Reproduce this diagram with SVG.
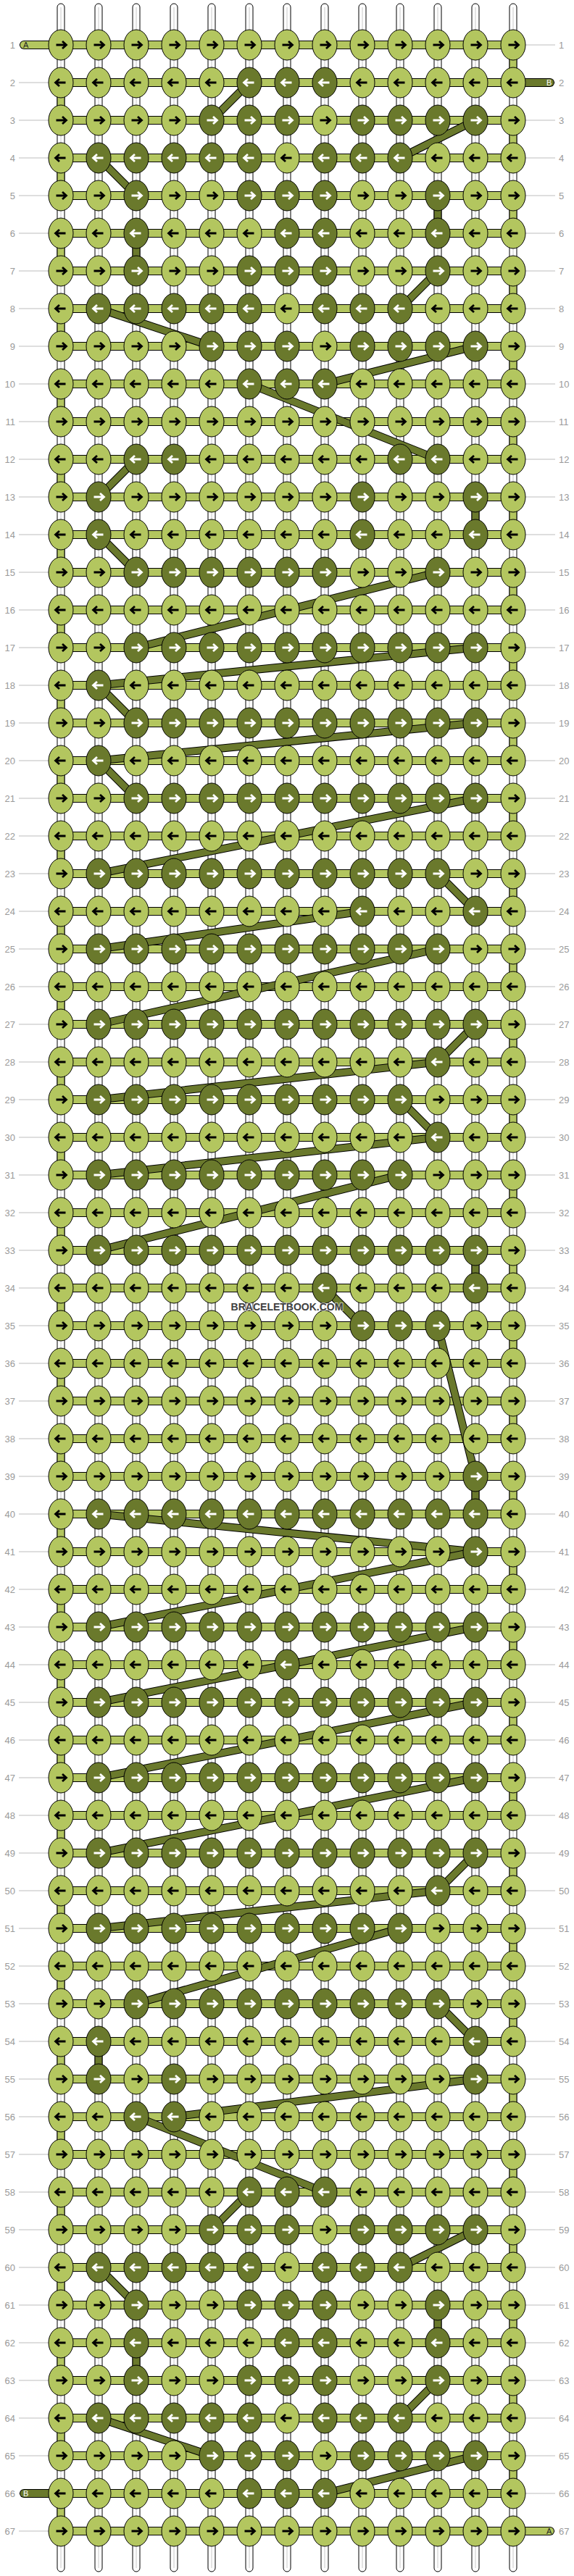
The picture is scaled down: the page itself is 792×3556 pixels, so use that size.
<svg xmlns="http://www.w3.org/2000/svg" xmlns:xlink="http://www.w3.org/1999/xlink" width="792" height="3556" viewBox="0 0 792 3556">
<style>
.lb{font-family:"Liberation Sans",Arial,sans-serif;font-size:13px;fill:#9a9a9a}
.ll{fill:none;stroke:#bdbdbd;stroke-width:1}
.w{fill:#fff;stroke:#000;stroke-width:1}
.wc{fill:none;stroke:#c8c8c8;stroke-width:1}
.ob{fill:none;stroke:#000;stroke-width:12}
.oi{fill:none;stroke:#b3c65f;stroke-width:10}
.eb{fill:none;stroke:#000;stroke-width:11;stroke-dasharray:52 52}
.ei{fill:none;stroke:#b3c65f;stroke-width:9;stroke-dasharray:52 52}
.l{fill:#b3c65f;color:#000}
.d{fill:#6a792c;color:#fff}
.cb{stroke:#000;stroke-width:11}
.cf{stroke:#6a792c;stroke-width:9}
.tb{stroke:#000;stroke-width:12;stroke-linecap:round}
.tl{stroke:#b3c65f;stroke-width:10;stroke-linecap:round}
.td{stroke:#6a792c;stroke-width:10;stroke-linecap:round}
.tx{font-family:"Liberation Sans",Arial,sans-serif;font-size:11px}
</style>
<defs>
<g id="R"><ellipse rx="17" ry="21" stroke="#000" stroke-width="1"/><path d="M-6.5 0H7M2-5 7.5 0 2 5" fill="none" stroke="currentColor" stroke-width="2.8"/></g>
<g id="L"><ellipse rx="17" ry="21" stroke="#000" stroke-width="1"/><path d="M6.5 0H-7M-2-5-7.5 0-2 5" fill="none" stroke="currentColor" stroke-width="2.8"/></g>
<path id="bars" d="M84 62H708M84 114H708M84 166H708M84 218H708M84 270H708M84 322H708M84 374H708M84 426H708M84 478H708M84 530H708M84 582H708M84 634H708M84 686H708M84 738H708M84 790H708M84 842H708M84 894H708M84 946H708M84 998H708M84 1050H708M84 1102H708M84 1154H708M84 1206H708M84 1258H708M84 1310H708M84 1362H708M84 1414H708M84 1466H708M84 1518H708M84 1570H708M84 1622H708M84 1674H708M84 1726H708M84 1778H708M84 1830H708M84 1882H708M84 1934H708M84 1986H708M84 2038H708M84 2090H708M84 2142H708M84 2194H708M84 2246H708M84 2298H708M84 2350H708M84 2402H708M84 2454H708M84 2506H708M84 2558H708M84 2610H708M84 2662H708M84 2714H708M84 2766H708M84 2818H708M84 2870H708M84 2922H708M84 2974H708M84 3026H708M84 3078H708M84 3130H708M84 3182H708M84 3234H708M84 3286H708M84 3338H708M84 3390H708M84 3442H708M84 3494H708"/>
<path id="links" d="M84 114V3494M708 62V3442"/>
</defs>
<rect width="792" height="3556" fill="#fff"/>
<g id="labels">
<path class="ll" d="M26 62H67M725 62H766M26 114H67M725 114H766M26 166H67M725 166H766M26 218H67M725 218H766M26 270H67M725 270H766M26 322H67M725 322H766M26 374H67M725 374H766M26 426H67M725 426H766M26 478H67M725 478H766M26 530H67M725 530H766M26 582H67M725 582H766M26 634H67M725 634H766M26 686H67M725 686H766M26 738H67M725 738H766M26 790H67M725 790H766M26 842H67M725 842H766M26 894H67M725 894H766M26 946H67M725 946H766M26 998H67M725 998H766M26 1050H67M725 1050H766M26 1102H67M725 1102H766M26 1154H67M725 1154H766M26 1206H67M725 1206H766M26 1258H67M725 1258H766M26 1310H67M725 1310H766M26 1362H67M725 1362H766M26 1414H67M725 1414H766M26 1466H67M725 1466H766M26 1518H67M725 1518H766M26 1570H67M725 1570H766M26 1622H67M725 1622H766M26 1674H67M725 1674H766M26 1726H67M725 1726H766M26 1778H67M725 1778H766M26 1830H67M725 1830H766M26 1882H67M725 1882H766M26 1934H67M725 1934H766M26 1986H67M725 1986H766M26 2038H67M725 2038H766M26 2090H67M725 2090H766M26 2142H67M725 2142H766M26 2194H67M725 2194H766M26 2246H67M725 2246H766M26 2298H67M725 2298H766M26 2350H67M725 2350H766M26 2402H67M725 2402H766M26 2454H67M725 2454H766M26 2506H67M725 2506H766M26 2558H67M725 2558H766M26 2610H67M725 2610H766M26 2662H67M725 2662H766M26 2714H67M725 2714H766M26 2766H67M725 2766H766M26 2818H67M725 2818H766M26 2870H67M725 2870H766M26 2922H67M725 2922H766M26 2974H67M725 2974H766M26 3026H67M725 3026H766M26 3078H67M725 3078H766M26 3130H67M725 3130H766M26 3182H67M725 3182H766M26 3234H67M725 3234H766M26 3286H67M725 3286H766M26 3338H67M725 3338H766M26 3390H67M725 3390H766M26 3442H67M725 3442H766M26 3494H67M725 3494H766"/>
<g class="lb" text-anchor="end">
<text x="21" y="67">1</text><text x="21" y="119">2</text><text x="21" y="171">3</text><text x="21" y="223">4</text><text x="21" y="275">5</text><text x="21" y="327">6</text><text x="21" y="379">7</text><text x="21" y="431">8</text><text x="21" y="483">9</text><text x="21" y="535">10</text><text x="21" y="587">11</text><text x="21" y="639">12</text><text x="21" y="691">13</text><text x="21" y="743">14</text><text x="21" y="795">15</text><text x="21" y="847">16</text><text x="21" y="899">17</text><text x="21" y="951">18</text><text x="21" y="1003">19</text><text x="21" y="1055">20</text><text x="21" y="1107">21</text><text x="21" y="1159">22</text><text x="21" y="1211">23</text><text x="21" y="1263">24</text><text x="21" y="1315">25</text><text x="21" y="1367">26</text><text x="21" y="1419">27</text><text x="21" y="1471">28</text><text x="21" y="1523">29</text><text x="21" y="1575">30</text><text x="21" y="1627">31</text><text x="21" y="1679">32</text><text x="21" y="1731">33</text><text x="21" y="1783">34</text><text x="21" y="1835">35</text><text x="21" y="1887">36</text><text x="21" y="1939">37</text><text x="21" y="1991">38</text><text x="21" y="2043">39</text><text x="21" y="2095">40</text><text x="21" y="2147">41</text><text x="21" y="2199">42</text><text x="21" y="2251">43</text><text x="21" y="2303">44</text><text x="21" y="2355">45</text><text x="21" y="2407">46</text><text x="21" y="2459">47</text><text x="21" y="2511">48</text><text x="21" y="2563">49</text><text x="21" y="2615">50</text><text x="21" y="2667">51</text><text x="21" y="2719">52</text><text x="21" y="2771">53</text><text x="21" y="2823">54</text><text x="21" y="2875">55</text><text x="21" y="2927">56</text><text x="21" y="2979">57</text><text x="21" y="3031">58</text><text x="21" y="3083">59</text><text x="21" y="3135">60</text><text x="21" y="3187">61</text><text x="21" y="3239">62</text><text x="21" y="3291">63</text><text x="21" y="3343">64</text><text x="21" y="3395">65</text><text x="21" y="3447">66</text><text x="21" y="3499">67</text>
</g>
<g class="lb">
<text x="771" y="67">1</text><text x="771" y="119">2</text><text x="771" y="171">3</text><text x="771" y="223">4</text><text x="771" y="275">5</text><text x="771" y="327">6</text><text x="771" y="379">7</text><text x="771" y="431">8</text><text x="771" y="483">9</text><text x="771" y="535">10</text><text x="771" y="587">11</text><text x="771" y="639">12</text><text x="771" y="691">13</text><text x="771" y="743">14</text><text x="771" y="795">15</text><text x="771" y="847">16</text><text x="771" y="899">17</text><text x="771" y="951">18</text><text x="771" y="1003">19</text><text x="771" y="1055">20</text><text x="771" y="1107">21</text><text x="771" y="1159">22</text><text x="771" y="1211">23</text><text x="771" y="1263">24</text><text x="771" y="1315">25</text><text x="771" y="1367">26</text><text x="771" y="1419">27</text><text x="771" y="1471">28</text><text x="771" y="1523">29</text><text x="771" y="1575">30</text><text x="771" y="1627">31</text><text x="771" y="1679">32</text><text x="771" y="1731">33</text><text x="771" y="1783">34</text><text x="771" y="1835">35</text><text x="771" y="1887">36</text><text x="771" y="1939">37</text><text x="771" y="1991">38</text><text x="771" y="2043">39</text><text x="771" y="2095">40</text><text x="771" y="2147">41</text><text x="771" y="2199">42</text><text x="771" y="2251">43</text><text x="771" y="2303">44</text><text x="771" y="2355">45</text><text x="771" y="2407">46</text><text x="771" y="2459">47</text><text x="771" y="2511">48</text><text x="771" y="2563">49</text><text x="771" y="2615">50</text><text x="771" y="2667">51</text><text x="771" y="2719">52</text><text x="771" y="2771">53</text><text x="771" y="2823">54</text><text x="771" y="2875">55</text><text x="771" y="2927">56</text><text x="771" y="2979">57</text><text x="771" y="3031">58</text><text x="771" y="3083">59</text><text x="771" y="3135">60</text><text x="771" y="3187">61</text><text x="771" y="3239">62</text><text x="771" y="3291">63</text><text x="771" y="3343">64</text><text x="771" y="3395">65</text><text x="771" y="3447">66</text><text x="771" y="3499">67</text>
</g>
</g>
<g id="warps">
<rect class="w" x="79" y="5" width="10" height="3545" rx="5"/><rect class="w" x="131" y="5" width="10" height="3545" rx="5"/><rect class="w" x="183" y="5" width="10" height="3545" rx="5"/><rect class="w" x="235" y="5" width="10" height="3545" rx="5"/><rect class="w" x="287" y="5" width="10" height="3545" rx="5"/><rect class="w" x="339" y="5" width="10" height="3545" rx="5"/><rect class="w" x="391" y="5" width="10" height="3545" rx="5"/><rect class="w" x="443" y="5" width="10" height="3545" rx="5"/><rect class="w" x="495" y="5" width="10" height="3545" rx="5"/><rect class="w" x="547" y="5" width="10" height="3545" rx="5"/><rect class="w" x="599" y="5" width="10" height="3545" rx="5"/><rect class="w" x="651" y="5" width="10" height="3545" rx="5"/><rect class="w" x="703" y="5" width="10" height="3545" rx="5"/>
<path class="wc" d="M84 10V3545M136 10V3545M188 10V3545M240 10V3545M292 10V3545M344 10V3545M396 10V3545M448 10V3545M500 10V3545M552 10V3545M604 10V3545M656 10V3545M708 10V3545"/>
</g>
<g id="threadA">
<use href="#bars" class="ob"/>
<use href="#bars" class="oi"/>
<use href="#links" class="eb"/>
<use href="#links" class="ei"/>
</g>
<g id="connectors">
<line class="cb" x1="344" y1="114" x2="292" y2="166"/><line class="cf" x1="344" y1="114" x2="292" y2="166"/>
<line class="cb" x1="656" y1="166" x2="552" y2="218"/><line class="cf" x1="656" y1="166" x2="552" y2="218"/>
<line class="cb" x1="136" y1="218" x2="188" y2="270"/><line class="cf" x1="136" y1="218" x2="188" y2="270"/>
<line class="cb" x1="604" y1="270" x2="604" y2="322"/><line class="cf" x1="604" y1="270" x2="604" y2="322"/>
<line class="cb" x1="188" y1="322" x2="188" y2="374"/><line class="cf" x1="188" y1="322" x2="188" y2="374"/>
<line class="cb" x1="604" y1="374" x2="552" y2="426"/><line class="cf" x1="604" y1="374" x2="552" y2="426"/>
<line class="cb" x1="136" y1="426" x2="292" y2="478"/><line class="cf" x1="136" y1="426" x2="292" y2="478"/>
<line class="cb" x1="656" y1="478" x2="448" y2="530"/><line class="cf" x1="656" y1="478" x2="448" y2="530"/>
<line class="cb" x1="344" y1="530" x2="604" y2="634"/><line class="cf" x1="344" y1="530" x2="604" y2="634"/>
<line class="cb" x1="188" y1="634" x2="136" y2="686"/><line class="cf" x1="188" y1="634" x2="136" y2="686"/>
<line class="cb" x1="656" y1="686" x2="656" y2="738"/><line class="cf" x1="656" y1="686" x2="656" y2="738"/>
<line class="cb" x1="136" y1="738" x2="188" y2="790"/><line class="cf" x1="136" y1="738" x2="188" y2="790"/>
<line class="cb" x1="604" y1="790" x2="188" y2="894"/><line class="cf" x1="604" y1="790" x2="188" y2="894"/>
<line class="cb" x1="656" y1="894" x2="136" y2="946"/><line class="cf" x1="656" y1="894" x2="136" y2="946"/>
<line class="cb" x1="136" y1="946" x2="188" y2="998"/><line class="cf" x1="136" y1="946" x2="188" y2="998"/>
<line class="cb" x1="656" y1="998" x2="136" y2="1050"/><line class="cf" x1="656" y1="998" x2="136" y2="1050"/>
<line class="cb" x1="136" y1="1050" x2="188" y2="1102"/><line class="cf" x1="136" y1="1050" x2="188" y2="1102"/>
<line class="cb" x1="656" y1="1102" x2="136" y2="1206"/><line class="cf" x1="656" y1="1102" x2="136" y2="1206"/>
<line class="cb" x1="604" y1="1206" x2="656" y2="1258"/><line class="cf" x1="604" y1="1206" x2="656" y2="1258"/>
<line class="cb" x1="500" y1="1258" x2="136" y2="1310"/><line class="cf" x1="500" y1="1258" x2="136" y2="1310"/>
<line class="cb" x1="604" y1="1310" x2="136" y2="1414"/><line class="cf" x1="604" y1="1310" x2="136" y2="1414"/>
<line class="cb" x1="656" y1="1414" x2="604" y2="1466"/><line class="cf" x1="656" y1="1414" x2="604" y2="1466"/>
<line class="cb" x1="604" y1="1466" x2="136" y2="1518"/><line class="cf" x1="604" y1="1466" x2="136" y2="1518"/>
<line class="cb" x1="552" y1="1518" x2="604" y2="1570"/><line class="cf" x1="552" y1="1518" x2="604" y2="1570"/>
<line class="cb" x1="604" y1="1570" x2="136" y2="1622"/><line class="cf" x1="604" y1="1570" x2="136" y2="1622"/>
<line class="cb" x1="552" y1="1622" x2="136" y2="1726"/><line class="cf" x1="552" y1="1622" x2="136" y2="1726"/>
<line class="cb" x1="656" y1="1726" x2="656" y2="1778"/><line class="cf" x1="656" y1="1726" x2="656" y2="1778"/>
<line class="cb" x1="448" y1="1778" x2="500" y2="1830"/><line class="cf" x1="448" y1="1778" x2="500" y2="1830"/>
<line class="cb" x1="604" y1="1830" x2="656" y2="2038"/><line class="cf" x1="604" y1="1830" x2="656" y2="2038"/>
<line class="cb" x1="656" y1="2038" x2="656" y2="2090"/><line class="cf" x1="656" y1="2038" x2="656" y2="2090"/>
<line class="cb" x1="136" y1="2090" x2="656" y2="2142"/><line class="cf" x1="136" y1="2090" x2="656" y2="2142"/>
<line class="cb" x1="656" y1="2142" x2="136" y2="2246"/><line class="cf" x1="656" y1="2142" x2="136" y2="2246"/>
<line class="cb" x1="656" y1="2246" x2="396" y2="2298"/><line class="cf" x1="656" y1="2246" x2="396" y2="2298"/>
<line class="cb" x1="396" y1="2298" x2="136" y2="2350"/><line class="cf" x1="396" y1="2298" x2="136" y2="2350"/>
<line class="cb" x1="656" y1="2350" x2="136" y2="2454"/><line class="cf" x1="656" y1="2350" x2="136" y2="2454"/>
<line class="cb" x1="656" y1="2454" x2="136" y2="2558"/><line class="cf" x1="656" y1="2454" x2="136" y2="2558"/>
<line class="cb" x1="656" y1="2558" x2="604" y2="2610"/><line class="cf" x1="656" y1="2558" x2="604" y2="2610"/>
<line class="cb" x1="604" y1="2610" x2="136" y2="2662"/><line class="cf" x1="604" y1="2610" x2="136" y2="2662"/>
<line class="cb" x1="552" y1="2662" x2="188" y2="2766"/><line class="cf" x1="552" y1="2662" x2="188" y2="2766"/>
<line class="cb" x1="604" y1="2766" x2="656" y2="2818"/><line class="cf" x1="604" y1="2766" x2="656" y2="2818"/>
<line class="cb" x1="136" y1="2818" x2="136" y2="2870"/><line class="cf" x1="136" y1="2818" x2="136" y2="2870"/>
<line class="cb" x1="656" y1="2870" x2="240" y2="2922"/><line class="cf" x1="656" y1="2870" x2="240" y2="2922"/>
<line class="cb" x1="188" y1="2922" x2="448" y2="3026"/><line class="cf" x1="188" y1="2922" x2="448" y2="3026"/>
<line class="cb" x1="344" y1="3026" x2="292" y2="3078"/><line class="cf" x1="344" y1="3026" x2="292" y2="3078"/>
<line class="cb" x1="656" y1="3078" x2="552" y2="3130"/><line class="cf" x1="656" y1="3078" x2="552" y2="3130"/>
<line class="cb" x1="136" y1="3130" x2="188" y2="3182"/><line class="cf" x1="136" y1="3130" x2="188" y2="3182"/>
<line class="cb" x1="604" y1="3182" x2="604" y2="3234"/><line class="cf" x1="604" y1="3182" x2="604" y2="3234"/>
<line class="cb" x1="188" y1="3234" x2="188" y2="3286"/><line class="cf" x1="188" y1="3234" x2="188" y2="3286"/>
<line class="cb" x1="604" y1="3286" x2="552" y2="3338"/><line class="cf" x1="604" y1="3286" x2="552" y2="3338"/>
<line class="cb" x1="136" y1="3338" x2="292" y2="3390"/><line class="cf" x1="136" y1="3338" x2="292" y2="3390"/>
<line class="cb" x1="656" y1="3390" x2="448" y2="3442"/><line class="cf" x1="656" y1="3390" x2="448" y2="3442"/>
</g>
<g id="tails">
<line class="tb" x1="33" y1="62" x2="84" y2="62"/><line class="tl" x1="33" y1="62" x2="84" y2="62"/>
<line class="tb" x1="708" y1="114" x2="759" y2="114"/><line class="td" x1="708" y1="114" x2="759" y2="114"/>
<line class="tb" x1="33" y1="3442" x2="84" y2="3442"/><line class="td" x1="33" y1="3442" x2="84" y2="3442"/>
<line class="tb" x1="708" y1="3494" x2="759" y2="3494"/><line class="tl" x1="708" y1="3494" x2="759" y2="3494"/>
</g>
<g id="row1" transform="translate(0 62)"><g id="k1-1" class="l"><use href="#R" x="84"/></g><g id="k1-2" class="l"><use href="#R" x="136"/></g><g id="k1-3" class="l"><use href="#R" x="188"/></g><g id="k1-4" class="l"><use href="#R" x="240"/></g><g id="k1-5" class="l"><use href="#R" x="292"/></g><g id="k1-6" class="l"><use href="#R" x="344"/></g><g id="k1-7" class="l"><use href="#R" x="396"/></g><g id="k1-8" class="l"><use href="#R" x="448"/></g><g id="k1-9" class="l"><use href="#R" x="500"/></g><g id="k1-10" class="l"><use href="#R" x="552"/></g><g id="k1-11" class="l"><use href="#R" x="604"/></g><g id="k1-12" class="l"><use href="#R" x="656"/></g><g id="k1-13" class="l"><use href="#R" x="708"/></g></g>
<g id="row2" transform="translate(0 114)"><g id="k2-1" class="l"><use href="#L" x="84"/></g><g id="k2-2" class="l"><use href="#L" x="136"/></g><g id="k2-3" class="l"><use href="#L" x="188"/></g><g id="k2-4" class="l"><use href="#L" x="240"/></g><g id="k2-5" class="l"><use href="#L" x="292"/></g><g id="k2-6" class="d"><use href="#L" x="344"/></g><g id="k2-7" class="d"><use href="#L" x="396"/></g><g id="k2-8" class="d"><use href="#L" x="448"/></g><g id="k2-9" class="l"><use href="#L" x="500"/></g><g id="k2-10" class="l"><use href="#L" x="552"/></g><g id="k2-11" class="l"><use href="#L" x="604"/></g><g id="k2-12" class="l"><use href="#L" x="656"/></g><g id="k2-13" class="l"><use href="#L" x="708"/></g></g>
<g id="row3" transform="translate(0 166)"><g id="k3-1" class="l"><use href="#R" x="84"/></g><g id="k3-2" class="l"><use href="#R" x="136"/></g><g id="k3-3" class="l"><use href="#R" x="188"/></g><g id="k3-4" class="l"><use href="#R" x="240"/></g><g id="k3-5" class="d"><use href="#R" x="292"/></g><g id="k3-6" class="d"><use href="#R" x="344"/></g><g id="k3-7" class="d"><use href="#R" x="396"/></g><g id="k3-8" class="l"><use href="#R" x="448"/></g><g id="k3-9" class="d"><use href="#R" x="500"/></g><g id="k3-10" class="d"><use href="#R" x="552"/></g><g id="k3-11" class="d"><use href="#R" x="604"/></g><g id="k3-12" class="d"><use href="#R" x="656"/></g><g id="k3-13" class="l"><use href="#R" x="708"/></g></g>
<g id="row4" transform="translate(0 218)"><g id="k4-1" class="l"><use href="#L" x="84"/></g><g id="k4-2" class="d"><use href="#L" x="136"/></g><g id="k4-3" class="d"><use href="#L" x="188"/></g><g id="k4-4" class="d"><use href="#L" x="240"/></g><g id="k4-5" class="d"><use href="#L" x="292"/></g><g id="k4-6" class="d"><use href="#L" x="344"/></g><g id="k4-7" class="l"><use href="#L" x="396"/></g><g id="k4-8" class="d"><use href="#L" x="448"/></g><g id="k4-9" class="d"><use href="#L" x="500"/></g><g id="k4-10" class="d"><use href="#L" x="552"/></g><g id="k4-11" class="l"><use href="#L" x="604"/></g><g id="k4-12" class="l"><use href="#L" x="656"/></g><g id="k4-13" class="l"><use href="#L" x="708"/></g></g>
<g id="row5" transform="translate(0 270)"><g id="k5-1" class="l"><use href="#R" x="84"/></g><g id="k5-2" class="l"><use href="#R" x="136"/></g><g id="k5-3" class="d"><use href="#R" x="188"/></g><g id="k5-4" class="l"><use href="#R" x="240"/></g><g id="k5-5" class="l"><use href="#R" x="292"/></g><g id="k5-6" class="d"><use href="#R" x="344"/></g><g id="k5-7" class="d"><use href="#R" x="396"/></g><g id="k5-8" class="d"><use href="#R" x="448"/></g><g id="k5-9" class="l"><use href="#R" x="500"/></g><g id="k5-10" class="l"><use href="#R" x="552"/></g><g id="k5-11" class="d"><use href="#R" x="604"/></g><g id="k5-12" class="l"><use href="#R" x="656"/></g><g id="k5-13" class="l"><use href="#R" x="708"/></g></g>
<g id="row6" transform="translate(0 322)"><g id="k6-1" class="l"><use href="#L" x="84"/></g><g id="k6-2" class="l"><use href="#L" x="136"/></g><g id="k6-3" class="d"><use href="#L" x="188"/></g><g id="k6-4" class="l"><use href="#L" x="240"/></g><g id="k6-5" class="l"><use href="#L" x="292"/></g><g id="k6-6" class="l"><use href="#L" x="344"/></g><g id="k6-7" class="d"><use href="#L" x="396"/></g><g id="k6-8" class="d"><use href="#L" x="448"/></g><g id="k6-9" class="l"><use href="#L" x="500"/></g><g id="k6-10" class="l"><use href="#L" x="552"/></g><g id="k6-11" class="d"><use href="#L" x="604"/></g><g id="k6-12" class="l"><use href="#L" x="656"/></g><g id="k6-13" class="l"><use href="#L" x="708"/></g></g>
<g id="row7" transform="translate(0 374)"><g id="k7-1" class="l"><use href="#R" x="84"/></g><g id="k7-2" class="l"><use href="#R" x="136"/></g><g id="k7-3" class="d"><use href="#R" x="188"/></g><g id="k7-4" class="l"><use href="#R" x="240"/></g><g id="k7-5" class="l"><use href="#R" x="292"/></g><g id="k7-6" class="d"><use href="#R" x="344"/></g><g id="k7-7" class="d"><use href="#R" x="396"/></g><g id="k7-8" class="d"><use href="#R" x="448"/></g><g id="k7-9" class="l"><use href="#R" x="500"/></g><g id="k7-10" class="l"><use href="#R" x="552"/></g><g id="k7-11" class="d"><use href="#R" x="604"/></g><g id="k7-12" class="l"><use href="#R" x="656"/></g><g id="k7-13" class="l"><use href="#R" x="708"/></g></g>
<g id="row8" transform="translate(0 426)"><g id="k8-1" class="l"><use href="#L" x="84"/></g><g id="k8-2" class="d"><use href="#L" x="136"/></g><g id="k8-3" class="d"><use href="#L" x="188"/></g><g id="k8-4" class="d"><use href="#L" x="240"/></g><g id="k8-5" class="d"><use href="#L" x="292"/></g><g id="k8-6" class="d"><use href="#L" x="344"/></g><g id="k8-7" class="l"><use href="#L" x="396"/></g><g id="k8-8" class="d"><use href="#L" x="448"/></g><g id="k8-9" class="d"><use href="#L" x="500"/></g><g id="k8-10" class="d"><use href="#L" x="552"/></g><g id="k8-11" class="l"><use href="#L" x="604"/></g><g id="k8-12" class="l"><use href="#L" x="656"/></g><g id="k8-13" class="l"><use href="#L" x="708"/></g></g>
<g id="row9" transform="translate(0 478)"><g id="k9-1" class="l"><use href="#R" x="84"/></g><g id="k9-2" class="l"><use href="#R" x="136"/></g><g id="k9-3" class="l"><use href="#R" x="188"/></g><g id="k9-4" class="l"><use href="#R" x="240"/></g><g id="k9-5" class="d"><use href="#R" x="292"/></g><g id="k9-6" class="d"><use href="#R" x="344"/></g><g id="k9-7" class="d"><use href="#R" x="396"/></g><g id="k9-8" class="l"><use href="#R" x="448"/></g><g id="k9-9" class="d"><use href="#R" x="500"/></g><g id="k9-10" class="d"><use href="#R" x="552"/></g><g id="k9-11" class="d"><use href="#R" x="604"/></g><g id="k9-12" class="d"><use href="#R" x="656"/></g><g id="k9-13" class="l"><use href="#R" x="708"/></g></g>
<g id="row10" transform="translate(0 530)"><g id="k10-1" class="l"><use href="#L" x="84"/></g><g id="k10-2" class="l"><use href="#L" x="136"/></g><g id="k10-3" class="l"><use href="#L" x="188"/></g><g id="k10-4" class="l"><use href="#L" x="240"/></g><g id="k10-5" class="l"><use href="#L" x="292"/></g><g id="k10-6" class="d"><use href="#L" x="344"/></g><g id="k10-7" class="d"><use href="#L" x="396"/></g><g id="k10-8" class="d"><use href="#L" x="448"/></g><g id="k10-9" class="l"><use href="#L" x="500"/></g><g id="k10-10" class="l"><use href="#L" x="552"/></g><g id="k10-11" class="l"><use href="#L" x="604"/></g><g id="k10-12" class="l"><use href="#L" x="656"/></g><g id="k10-13" class="l"><use href="#L" x="708"/></g></g>
<g id="row11" transform="translate(0 582)"><g id="k11-1" class="l"><use href="#R" x="84"/></g><g id="k11-2" class="l"><use href="#R" x="136"/></g><g id="k11-3" class="l"><use href="#R" x="188"/></g><g id="k11-4" class="l"><use href="#R" x="240"/></g><g id="k11-5" class="l"><use href="#R" x="292"/></g><g id="k11-6" class="l"><use href="#R" x="344"/></g><g id="k11-7" class="l"><use href="#R" x="396"/></g><g id="k11-8" class="l"><use href="#R" x="448"/></g><g id="k11-9" class="l"><use href="#R" x="500"/></g><g id="k11-10" class="l"><use href="#R" x="552"/></g><g id="k11-11" class="l"><use href="#R" x="604"/></g><g id="k11-12" class="l"><use href="#R" x="656"/></g><g id="k11-13" class="l"><use href="#R" x="708"/></g></g>
<g id="row12" transform="translate(0 634)"><g id="k12-1" class="l"><use href="#L" x="84"/></g><g id="k12-2" class="l"><use href="#L" x="136"/></g><g id="k12-3" class="d"><use href="#L" x="188"/></g><g id="k12-4" class="d"><use href="#L" x="240"/></g><g id="k12-5" class="l"><use href="#L" x="292"/></g><g id="k12-6" class="l"><use href="#L" x="344"/></g><g id="k12-7" class="l"><use href="#L" x="396"/></g><g id="k12-8" class="l"><use href="#L" x="448"/></g><g id="k12-9" class="l"><use href="#L" x="500"/></g><g id="k12-10" class="d"><use href="#L" x="552"/></g><g id="k12-11" class="d"><use href="#L" x="604"/></g><g id="k12-12" class="l"><use href="#L" x="656"/></g><g id="k12-13" class="l"><use href="#L" x="708"/></g></g>
<g id="row13" transform="translate(0 686)"><g id="k13-1" class="l"><use href="#R" x="84"/></g><g id="k13-2" class="d"><use href="#R" x="136"/></g><g id="k13-3" class="l"><use href="#R" x="188"/></g><g id="k13-4" class="l"><use href="#R" x="240"/></g><g id="k13-5" class="l"><use href="#R" x="292"/></g><g id="k13-6" class="l"><use href="#R" x="344"/></g><g id="k13-7" class="l"><use href="#R" x="396"/></g><g id="k13-8" class="l"><use href="#R" x="448"/></g><g id="k13-9" class="d"><use href="#R" x="500"/></g><g id="k13-10" class="l"><use href="#R" x="552"/></g><g id="k13-11" class="l"><use href="#R" x="604"/></g><g id="k13-12" class="d"><use href="#R" x="656"/></g><g id="k13-13" class="l"><use href="#R" x="708"/></g></g>
<g id="row14" transform="translate(0 738)"><g id="k14-1" class="l"><use href="#L" x="84"/></g><g id="k14-2" class="d"><use href="#L" x="136"/></g><g id="k14-3" class="l"><use href="#L" x="188"/></g><g id="k14-4" class="l"><use href="#L" x="240"/></g><g id="k14-5" class="l"><use href="#L" x="292"/></g><g id="k14-6" class="l"><use href="#L" x="344"/></g><g id="k14-7" class="l"><use href="#L" x="396"/></g><g id="k14-8" class="l"><use href="#L" x="448"/></g><g id="k14-9" class="d"><use href="#L" x="500"/></g><g id="k14-10" class="l"><use href="#L" x="552"/></g><g id="k14-11" class="l"><use href="#L" x="604"/></g><g id="k14-12" class="d"><use href="#L" x="656"/></g><g id="k14-13" class="l"><use href="#L" x="708"/></g></g>
<g id="row15" transform="translate(0 790)"><g id="k15-1" class="l"><use href="#R" x="84"/></g><g id="k15-2" class="l"><use href="#R" x="136"/></g><g id="k15-3" class="d"><use href="#R" x="188"/></g><g id="k15-4" class="d"><use href="#R" x="240"/></g><g id="k15-5" class="d"><use href="#R" x="292"/></g><g id="k15-6" class="d"><use href="#R" x="344"/></g><g id="k15-7" class="d"><use href="#R" x="396"/></g><g id="k15-8" class="d"><use href="#R" x="448"/></g><g id="k15-9" class="l"><use href="#R" x="500"/></g><g id="k15-10" class="l"><use href="#R" x="552"/></g><g id="k15-11" class="d"><use href="#R" x="604"/></g><g id="k15-12" class="l"><use href="#R" x="656"/></g><g id="k15-13" class="l"><use href="#R" x="708"/></g></g>
<g id="row16" transform="translate(0 842)"><g id="k16-1" class="l"><use href="#L" x="84"/></g><g id="k16-2" class="l"><use href="#L" x="136"/></g><g id="k16-3" class="l"><use href="#L" x="188"/></g><g id="k16-4" class="l"><use href="#L" x="240"/></g><g id="k16-5" class="l"><use href="#L" x="292"/></g><g id="k16-6" class="l"><use href="#L" x="344"/></g><g id="k16-7" class="l"><use href="#L" x="396"/></g><g id="k16-8" class="l"><use href="#L" x="448"/></g><g id="k16-9" class="l"><use href="#L" x="500"/></g><g id="k16-10" class="l"><use href="#L" x="552"/></g><g id="k16-11" class="l"><use href="#L" x="604"/></g><g id="k16-12" class="l"><use href="#L" x="656"/></g><g id="k16-13" class="l"><use href="#L" x="708"/></g></g>
<g id="row17" transform="translate(0 894)"><g id="k17-1" class="l"><use href="#R" x="84"/></g><g id="k17-2" class="l"><use href="#R" x="136"/></g><g id="k17-3" class="d"><use href="#R" x="188"/></g><g id="k17-4" class="d"><use href="#R" x="240"/></g><g id="k17-5" class="d"><use href="#R" x="292"/></g><g id="k17-6" class="d"><use href="#R" x="344"/></g><g id="k17-7" class="d"><use href="#R" x="396"/></g><g id="k17-8" class="d"><use href="#R" x="448"/></g><g id="k17-9" class="d"><use href="#R" x="500"/></g><g id="k17-10" class="d"><use href="#R" x="552"/></g><g id="k17-11" class="d"><use href="#R" x="604"/></g><g id="k17-12" class="d"><use href="#R" x="656"/></g><g id="k17-13" class="l"><use href="#R" x="708"/></g></g>
<g id="row18" transform="translate(0 946)"><g id="k18-1" class="l"><use href="#L" x="84"/></g><g id="k18-2" class="d"><use href="#L" x="136"/></g><g id="k18-3" class="l"><use href="#L" x="188"/></g><g id="k18-4" class="l"><use href="#L" x="240"/></g><g id="k18-5" class="l"><use href="#L" x="292"/></g><g id="k18-6" class="l"><use href="#L" x="344"/></g><g id="k18-7" class="l"><use href="#L" x="396"/></g><g id="k18-8" class="l"><use href="#L" x="448"/></g><g id="k18-9" class="l"><use href="#L" x="500"/></g><g id="k18-10" class="l"><use href="#L" x="552"/></g><g id="k18-11" class="l"><use href="#L" x="604"/></g><g id="k18-12" class="l"><use href="#L" x="656"/></g><g id="k18-13" class="l"><use href="#L" x="708"/></g></g>
<g id="row19" transform="translate(0 998)"><g id="k19-1" class="l"><use href="#R" x="84"/></g><g id="k19-2" class="l"><use href="#R" x="136"/></g><g id="k19-3" class="d"><use href="#R" x="188"/></g><g id="k19-4" class="d"><use href="#R" x="240"/></g><g id="k19-5" class="d"><use href="#R" x="292"/></g><g id="k19-6" class="d"><use href="#R" x="344"/></g><g id="k19-7" class="d"><use href="#R" x="396"/></g><g id="k19-8" class="d"><use href="#R" x="448"/></g><g id="k19-9" class="d"><use href="#R" x="500"/></g><g id="k19-10" class="d"><use href="#R" x="552"/></g><g id="k19-11" class="d"><use href="#R" x="604"/></g><g id="k19-12" class="d"><use href="#R" x="656"/></g><g id="k19-13" class="l"><use href="#R" x="708"/></g></g>
<g id="row20" transform="translate(0 1050)"><g id="k20-1" class="l"><use href="#L" x="84"/></g><g id="k20-2" class="d"><use href="#L" x="136"/></g><g id="k20-3" class="l"><use href="#L" x="188"/></g><g id="k20-4" class="l"><use href="#L" x="240"/></g><g id="k20-5" class="l"><use href="#L" x="292"/></g><g id="k20-6" class="l"><use href="#L" x="344"/></g><g id="k20-7" class="l"><use href="#L" x="396"/></g><g id="k20-8" class="l"><use href="#L" x="448"/></g><g id="k20-9" class="l"><use href="#L" x="500"/></g><g id="k20-10" class="l"><use href="#L" x="552"/></g><g id="k20-11" class="l"><use href="#L" x="604"/></g><g id="k20-12" class="l"><use href="#L" x="656"/></g><g id="k20-13" class="l"><use href="#L" x="708"/></g></g>
<g id="row21" transform="translate(0 1102)"><g id="k21-1" class="l"><use href="#R" x="84"/></g><g id="k21-2" class="l"><use href="#R" x="136"/></g><g id="k21-3" class="d"><use href="#R" x="188"/></g><g id="k21-4" class="d"><use href="#R" x="240"/></g><g id="k21-5" class="d"><use href="#R" x="292"/></g><g id="k21-6" class="d"><use href="#R" x="344"/></g><g id="k21-7" class="d"><use href="#R" x="396"/></g><g id="k21-8" class="d"><use href="#R" x="448"/></g><g id="k21-9" class="d"><use href="#R" x="500"/></g><g id="k21-10" class="d"><use href="#R" x="552"/></g><g id="k21-11" class="d"><use href="#R" x="604"/></g><g id="k21-12" class="d"><use href="#R" x="656"/></g><g id="k21-13" class="l"><use href="#R" x="708"/></g></g>
<g id="row22" transform="translate(0 1154)"><g id="k22-1" class="l"><use href="#L" x="84"/></g><g id="k22-2" class="l"><use href="#L" x="136"/></g><g id="k22-3" class="l"><use href="#L" x="188"/></g><g id="k22-4" class="l"><use href="#L" x="240"/></g><g id="k22-5" class="l"><use href="#L" x="292"/></g><g id="k22-6" class="l"><use href="#L" x="344"/></g><g id="k22-7" class="l"><use href="#L" x="396"/></g><g id="k22-8" class="l"><use href="#L" x="448"/></g><g id="k22-9" class="l"><use href="#L" x="500"/></g><g id="k22-10" class="l"><use href="#L" x="552"/></g><g id="k22-11" class="l"><use href="#L" x="604"/></g><g id="k22-12" class="l"><use href="#L" x="656"/></g><g id="k22-13" class="l"><use href="#L" x="708"/></g></g>
<g id="row23" transform="translate(0 1206)"><g id="k23-1" class="l"><use href="#R" x="84"/></g><g id="k23-2" class="d"><use href="#R" x="136"/></g><g id="k23-3" class="d"><use href="#R" x="188"/></g><g id="k23-4" class="d"><use href="#R" x="240"/></g><g id="k23-5" class="d"><use href="#R" x="292"/></g><g id="k23-6" class="d"><use href="#R" x="344"/></g><g id="k23-7" class="d"><use href="#R" x="396"/></g><g id="k23-8" class="d"><use href="#R" x="448"/></g><g id="k23-9" class="d"><use href="#R" x="500"/></g><g id="k23-10" class="d"><use href="#R" x="552"/></g><g id="k23-11" class="d"><use href="#R" x="604"/></g><g id="k23-12" class="l"><use href="#R" x="656"/></g><g id="k23-13" class="l"><use href="#R" x="708"/></g></g>
<g id="row24" transform="translate(0 1258)"><g id="k24-1" class="l"><use href="#L" x="84"/></g><g id="k24-2" class="l"><use href="#L" x="136"/></g><g id="k24-3" class="l"><use href="#L" x="188"/></g><g id="k24-4" class="l"><use href="#L" x="240"/></g><g id="k24-5" class="l"><use href="#L" x="292"/></g><g id="k24-6" class="l"><use href="#L" x="344"/></g><g id="k24-7" class="l"><use href="#L" x="396"/></g><g id="k24-8" class="l"><use href="#L" x="448"/></g><g id="k24-9" class="d"><use href="#L" x="500"/></g><g id="k24-10" class="l"><use href="#L" x="552"/></g><g id="k24-11" class="l"><use href="#L" x="604"/></g><g id="k24-12" class="d"><use href="#L" x="656"/></g><g id="k24-13" class="l"><use href="#L" x="708"/></g></g>
<g id="row25" transform="translate(0 1310)"><g id="k25-1" class="l"><use href="#R" x="84"/></g><g id="k25-2" class="d"><use href="#R" x="136"/></g><g id="k25-3" class="d"><use href="#R" x="188"/></g><g id="k25-4" class="d"><use href="#R" x="240"/></g><g id="k25-5" class="d"><use href="#R" x="292"/></g><g id="k25-6" class="d"><use href="#R" x="344"/></g><g id="k25-7" class="d"><use href="#R" x="396"/></g><g id="k25-8" class="d"><use href="#R" x="448"/></g><g id="k25-9" class="d"><use href="#R" x="500"/></g><g id="k25-10" class="d"><use href="#R" x="552"/></g><g id="k25-11" class="d"><use href="#R" x="604"/></g><g id="k25-12" class="l"><use href="#R" x="656"/></g><g id="k25-13" class="l"><use href="#R" x="708"/></g></g>
<g id="row26" transform="translate(0 1362)"><g id="k26-1" class="l"><use href="#L" x="84"/></g><g id="k26-2" class="l"><use href="#L" x="136"/></g><g id="k26-3" class="l"><use href="#L" x="188"/></g><g id="k26-4" class="l"><use href="#L" x="240"/></g><g id="k26-5" class="l"><use href="#L" x="292"/></g><g id="k26-6" class="l"><use href="#L" x="344"/></g><g id="k26-7" class="l"><use href="#L" x="396"/></g><g id="k26-8" class="l"><use href="#L" x="448"/></g><g id="k26-9" class="l"><use href="#L" x="500"/></g><g id="k26-10" class="l"><use href="#L" x="552"/></g><g id="k26-11" class="l"><use href="#L" x="604"/></g><g id="k26-12" class="l"><use href="#L" x="656"/></g><g id="k26-13" class="l"><use href="#L" x="708"/></g></g>
<g id="row27" transform="translate(0 1414)"><g id="k27-1" class="l"><use href="#R" x="84"/></g><g id="k27-2" class="d"><use href="#R" x="136"/></g><g id="k27-3" class="d"><use href="#R" x="188"/></g><g id="k27-4" class="d"><use href="#R" x="240"/></g><g id="k27-5" class="d"><use href="#R" x="292"/></g><g id="k27-6" class="d"><use href="#R" x="344"/></g><g id="k27-7" class="d"><use href="#R" x="396"/></g><g id="k27-8" class="d"><use href="#R" x="448"/></g><g id="k27-9" class="d"><use href="#R" x="500"/></g><g id="k27-10" class="d"><use href="#R" x="552"/></g><g id="k27-11" class="d"><use href="#R" x="604"/></g><g id="k27-12" class="d"><use href="#R" x="656"/></g><g id="k27-13" class="l"><use href="#R" x="708"/></g></g>
<g id="row28" transform="translate(0 1466)"><g id="k28-1" class="l"><use href="#L" x="84"/></g><g id="k28-2" class="l"><use href="#L" x="136"/></g><g id="k28-3" class="l"><use href="#L" x="188"/></g><g id="k28-4" class="l"><use href="#L" x="240"/></g><g id="k28-5" class="l"><use href="#L" x="292"/></g><g id="k28-6" class="l"><use href="#L" x="344"/></g><g id="k28-7" class="l"><use href="#L" x="396"/></g><g id="k28-8" class="l"><use href="#L" x="448"/></g><g id="k28-9" class="l"><use href="#L" x="500"/></g><g id="k28-10" class="l"><use href="#L" x="552"/></g><g id="k28-11" class="d"><use href="#L" x="604"/></g><g id="k28-12" class="l"><use href="#L" x="656"/></g><g id="k28-13" class="l"><use href="#L" x="708"/></g></g>
<g id="row29" transform="translate(0 1518)"><g id="k29-1" class="l"><use href="#R" x="84"/></g><g id="k29-2" class="d"><use href="#R" x="136"/></g><g id="k29-3" class="d"><use href="#R" x="188"/></g><g id="k29-4" class="d"><use href="#R" x="240"/></g><g id="k29-5" class="d"><use href="#R" x="292"/></g><g id="k29-6" class="d"><use href="#R" x="344"/></g><g id="k29-7" class="d"><use href="#R" x="396"/></g><g id="k29-8" class="d"><use href="#R" x="448"/></g><g id="k29-9" class="d"><use href="#R" x="500"/></g><g id="k29-10" class="d"><use href="#R" x="552"/></g><g id="k29-11" class="l"><use href="#R" x="604"/></g><g id="k29-12" class="l"><use href="#R" x="656"/></g><g id="k29-13" class="l"><use href="#R" x="708"/></g></g>
<g id="row30" transform="translate(0 1570)"><g id="k30-1" class="l"><use href="#L" x="84"/></g><g id="k30-2" class="l"><use href="#L" x="136"/></g><g id="k30-3" class="l"><use href="#L" x="188"/></g><g id="k30-4" class="l"><use href="#L" x="240"/></g><g id="k30-5" class="l"><use href="#L" x="292"/></g><g id="k30-6" class="l"><use href="#L" x="344"/></g><g id="k30-7" class="l"><use href="#L" x="396"/></g><g id="k30-8" class="l"><use href="#L" x="448"/></g><g id="k30-9" class="l"><use href="#L" x="500"/></g><g id="k30-10" class="l"><use href="#L" x="552"/></g><g id="k30-11" class="d"><use href="#L" x="604"/></g><g id="k30-12" class="l"><use href="#L" x="656"/></g><g id="k30-13" class="l"><use href="#L" x="708"/></g></g>
<g id="row31" transform="translate(0 1622)"><g id="k31-1" class="l"><use href="#R" x="84"/></g><g id="k31-2" class="d"><use href="#R" x="136"/></g><g id="k31-3" class="d"><use href="#R" x="188"/></g><g id="k31-4" class="d"><use href="#R" x="240"/></g><g id="k31-5" class="d"><use href="#R" x="292"/></g><g id="k31-6" class="d"><use href="#R" x="344"/></g><g id="k31-7" class="d"><use href="#R" x="396"/></g><g id="k31-8" class="d"><use href="#R" x="448"/></g><g id="k31-9" class="d"><use href="#R" x="500"/></g><g id="k31-10" class="d"><use href="#R" x="552"/></g><g id="k31-11" class="l"><use href="#R" x="604"/></g><g id="k31-12" class="l"><use href="#R" x="656"/></g><g id="k31-13" class="l"><use href="#R" x="708"/></g></g>
<g id="row32" transform="translate(0 1674)"><g id="k32-1" class="l"><use href="#L" x="84"/></g><g id="k32-2" class="l"><use href="#L" x="136"/></g><g id="k32-3" class="l"><use href="#L" x="188"/></g><g id="k32-4" class="l"><use href="#L" x="240"/></g><g id="k32-5" class="l"><use href="#L" x="292"/></g><g id="k32-6" class="l"><use href="#L" x="344"/></g><g id="k32-7" class="l"><use href="#L" x="396"/></g><g id="k32-8" class="l"><use href="#L" x="448"/></g><g id="k32-9" class="l"><use href="#L" x="500"/></g><g id="k32-10" class="l"><use href="#L" x="552"/></g><g id="k32-11" class="l"><use href="#L" x="604"/></g><g id="k32-12" class="l"><use href="#L" x="656"/></g><g id="k32-13" class="l"><use href="#L" x="708"/></g></g>
<g id="row33" transform="translate(0 1726)"><g id="k33-1" class="l"><use href="#R" x="84"/></g><g id="k33-2" class="d"><use href="#R" x="136"/></g><g id="k33-3" class="d"><use href="#R" x="188"/></g><g id="k33-4" class="d"><use href="#R" x="240"/></g><g id="k33-5" class="d"><use href="#R" x="292"/></g><g id="k33-6" class="d"><use href="#R" x="344"/></g><g id="k33-7" class="d"><use href="#R" x="396"/></g><g id="k33-8" class="d"><use href="#R" x="448"/></g><g id="k33-9" class="d"><use href="#R" x="500"/></g><g id="k33-10" class="d"><use href="#R" x="552"/></g><g id="k33-11" class="d"><use href="#R" x="604"/></g><g id="k33-12" class="d"><use href="#R" x="656"/></g><g id="k33-13" class="l"><use href="#R" x="708"/></g></g>
<g id="row34" transform="translate(0 1778)"><g id="k34-1" class="l"><use href="#L" x="84"/></g><g id="k34-2" class="l"><use href="#L" x="136"/></g><g id="k34-3" class="l"><use href="#L" x="188"/></g><g id="k34-4" class="l"><use href="#L" x="240"/></g><g id="k34-5" class="l"><use href="#L" x="292"/></g><g id="k34-6" class="l"><use href="#L" x="344"/></g><g id="k34-7" class="l"><use href="#L" x="396"/></g><g id="k34-8" class="d"><use href="#L" x="448"/></g><g id="k34-9" class="l"><use href="#L" x="500"/></g><g id="k34-10" class="l"><use href="#L" x="552"/></g><g id="k34-11" class="l"><use href="#L" x="604"/></g><g id="k34-12" class="d"><use href="#L" x="656"/></g><g id="k34-13" class="l"><use href="#L" x="708"/></g></g>
<g id="row35" transform="translate(0 1830)"><g id="k35-1" class="l"><use href="#R" x="84"/></g><g id="k35-2" class="l"><use href="#R" x="136"/></g><g id="k35-3" class="l"><use href="#R" x="188"/></g><g id="k35-4" class="l"><use href="#R" x="240"/></g><g id="k35-5" class="l"><use href="#R" x="292"/></g><g id="k35-6" class="l"><use href="#R" x="344"/></g><g id="k35-7" class="l"><use href="#R" x="396"/></g><g id="k35-8" class="l"><use href="#R" x="448"/></g><g id="k35-9" class="d"><use href="#R" x="500"/></g><g id="k35-10" class="d"><use href="#R" x="552"/></g><g id="k35-11" class="d"><use href="#R" x="604"/></g><g id="k35-12" class="l"><use href="#R" x="656"/></g><g id="k35-13" class="l"><use href="#R" x="708"/></g></g>
<g id="row36" transform="translate(0 1882)"><g id="k36-1" class="l"><use href="#L" x="84"/></g><g id="k36-2" class="l"><use href="#L" x="136"/></g><g id="k36-3" class="l"><use href="#L" x="188"/></g><g id="k36-4" class="l"><use href="#L" x="240"/></g><g id="k36-5" class="l"><use href="#L" x="292"/></g><g id="k36-6" class="l"><use href="#L" x="344"/></g><g id="k36-7" class="l"><use href="#L" x="396"/></g><g id="k36-8" class="l"><use href="#L" x="448"/></g><g id="k36-9" class="l"><use href="#L" x="500"/></g><g id="k36-10" class="l"><use href="#L" x="552"/></g><g id="k36-11" class="l"><use href="#L" x="604"/></g><g id="k36-12" class="l"><use href="#L" x="656"/></g><g id="k36-13" class="l"><use href="#L" x="708"/></g></g>
<g id="row37" transform="translate(0 1934)"><g id="k37-1" class="l"><use href="#R" x="84"/></g><g id="k37-2" class="l"><use href="#R" x="136"/></g><g id="k37-3" class="l"><use href="#R" x="188"/></g><g id="k37-4" class="l"><use href="#R" x="240"/></g><g id="k37-5" class="l"><use href="#R" x="292"/></g><g id="k37-6" class="l"><use href="#R" x="344"/></g><g id="k37-7" class="l"><use href="#R" x="396"/></g><g id="k37-8" class="l"><use href="#R" x="448"/></g><g id="k37-9" class="l"><use href="#R" x="500"/></g><g id="k37-10" class="l"><use href="#R" x="552"/></g><g id="k37-11" class="l"><use href="#R" x="604"/></g><g id="k37-12" class="l"><use href="#R" x="656"/></g><g id="k37-13" class="l"><use href="#R" x="708"/></g></g>
<g id="row38" transform="translate(0 1986)"><g id="k38-1" class="l"><use href="#L" x="84"/></g><g id="k38-2" class="l"><use href="#L" x="136"/></g><g id="k38-3" class="l"><use href="#L" x="188"/></g><g id="k38-4" class="l"><use href="#L" x="240"/></g><g id="k38-5" class="l"><use href="#L" x="292"/></g><g id="k38-6" class="l"><use href="#L" x="344"/></g><g id="k38-7" class="l"><use href="#L" x="396"/></g><g id="k38-8" class="l"><use href="#L" x="448"/></g><g id="k38-9" class="l"><use href="#L" x="500"/></g><g id="k38-10" class="l"><use href="#L" x="552"/></g><g id="k38-11" class="l"><use href="#L" x="604"/></g><g id="k38-12" class="l"><use href="#L" x="656"/></g><g id="k38-13" class="l"><use href="#L" x="708"/></g></g>
<g id="row39" transform="translate(0 2038)"><g id="k39-1" class="l"><use href="#R" x="84"/></g><g id="k39-2" class="l"><use href="#R" x="136"/></g><g id="k39-3" class="l"><use href="#R" x="188"/></g><g id="k39-4" class="l"><use href="#R" x="240"/></g><g id="k39-5" class="l"><use href="#R" x="292"/></g><g id="k39-6" class="l"><use href="#R" x="344"/></g><g id="k39-7" class="l"><use href="#R" x="396"/></g><g id="k39-8" class="l"><use href="#R" x="448"/></g><g id="k39-9" class="l"><use href="#R" x="500"/></g><g id="k39-10" class="l"><use href="#R" x="552"/></g><g id="k39-11" class="l"><use href="#R" x="604"/></g><g id="k39-12" class="d"><use href="#R" x="656"/></g><g id="k39-13" class="l"><use href="#R" x="708"/></g></g>
<g id="row40" transform="translate(0 2090)"><g id="k40-1" class="l"><use href="#L" x="84"/></g><g id="k40-2" class="d"><use href="#L" x="136"/></g><g id="k40-3" class="d"><use href="#L" x="188"/></g><g id="k40-4" class="d"><use href="#L" x="240"/></g><g id="k40-5" class="d"><use href="#L" x="292"/></g><g id="k40-6" class="d"><use href="#L" x="344"/></g><g id="k40-7" class="d"><use href="#L" x="396"/></g><g id="k40-8" class="d"><use href="#L" x="448"/></g><g id="k40-9" class="d"><use href="#L" x="500"/></g><g id="k40-10" class="d"><use href="#L" x="552"/></g><g id="k40-11" class="d"><use href="#L" x="604"/></g><g id="k40-12" class="d"><use href="#L" x="656"/></g><g id="k40-13" class="l"><use href="#L" x="708"/></g></g>
<g id="row41" transform="translate(0 2142)"><g id="k41-1" class="l"><use href="#R" x="84"/></g><g id="k41-2" class="l"><use href="#R" x="136"/></g><g id="k41-3" class="l"><use href="#R" x="188"/></g><g id="k41-4" class="l"><use href="#R" x="240"/></g><g id="k41-5" class="l"><use href="#R" x="292"/></g><g id="k41-6" class="l"><use href="#R" x="344"/></g><g id="k41-7" class="l"><use href="#R" x="396"/></g><g id="k41-8" class="l"><use href="#R" x="448"/></g><g id="k41-9" class="l"><use href="#R" x="500"/></g><g id="k41-10" class="l"><use href="#R" x="552"/></g><g id="k41-11" class="l"><use href="#R" x="604"/></g><g id="k41-12" class="d"><use href="#R" x="656"/></g><g id="k41-13" class="l"><use href="#R" x="708"/></g></g>
<g id="row42" transform="translate(0 2194)"><g id="k42-1" class="l"><use href="#L" x="84"/></g><g id="k42-2" class="l"><use href="#L" x="136"/></g><g id="k42-3" class="l"><use href="#L" x="188"/></g><g id="k42-4" class="l"><use href="#L" x="240"/></g><g id="k42-5" class="l"><use href="#L" x="292"/></g><g id="k42-6" class="l"><use href="#L" x="344"/></g><g id="k42-7" class="l"><use href="#L" x="396"/></g><g id="k42-8" class="l"><use href="#L" x="448"/></g><g id="k42-9" class="l"><use href="#L" x="500"/></g><g id="k42-10" class="l"><use href="#L" x="552"/></g><g id="k42-11" class="l"><use href="#L" x="604"/></g><g id="k42-12" class="l"><use href="#L" x="656"/></g><g id="k42-13" class="l"><use href="#L" x="708"/></g></g>
<g id="row43" transform="translate(0 2246)"><g id="k43-1" class="l"><use href="#R" x="84"/></g><g id="k43-2" class="d"><use href="#R" x="136"/></g><g id="k43-3" class="d"><use href="#R" x="188"/></g><g id="k43-4" class="d"><use href="#R" x="240"/></g><g id="k43-5" class="d"><use href="#R" x="292"/></g><g id="k43-6" class="d"><use href="#R" x="344"/></g><g id="k43-7" class="d"><use href="#R" x="396"/></g><g id="k43-8" class="d"><use href="#R" x="448"/></g><g id="k43-9" class="d"><use href="#R" x="500"/></g><g id="k43-10" class="d"><use href="#R" x="552"/></g><g id="k43-11" class="d"><use href="#R" x="604"/></g><g id="k43-12" class="d"><use href="#R" x="656"/></g><g id="k43-13" class="l"><use href="#R" x="708"/></g></g>
<g id="row44" transform="translate(0 2298)"><g id="k44-1" class="l"><use href="#L" x="84"/></g><g id="k44-2" class="l"><use href="#L" x="136"/></g><g id="k44-3" class="l"><use href="#L" x="188"/></g><g id="k44-4" class="l"><use href="#L" x="240"/></g><g id="k44-5" class="l"><use href="#L" x="292"/></g><g id="k44-6" class="l"><use href="#L" x="344"/></g><g id="k44-7" class="d"><use href="#L" x="396"/></g><g id="k44-8" class="l"><use href="#L" x="448"/></g><g id="k44-9" class="l"><use href="#L" x="500"/></g><g id="k44-10" class="l"><use href="#L" x="552"/></g><g id="k44-11" class="l"><use href="#L" x="604"/></g><g id="k44-12" class="l"><use href="#L" x="656"/></g><g id="k44-13" class="l"><use href="#L" x="708"/></g></g>
<g id="row45" transform="translate(0 2350)"><g id="k45-1" class="l"><use href="#R" x="84"/></g><g id="k45-2" class="d"><use href="#R" x="136"/></g><g id="k45-3" class="d"><use href="#R" x="188"/></g><g id="k45-4" class="d"><use href="#R" x="240"/></g><g id="k45-5" class="d"><use href="#R" x="292"/></g><g id="k45-6" class="d"><use href="#R" x="344"/></g><g id="k45-7" class="d"><use href="#R" x="396"/></g><g id="k45-8" class="d"><use href="#R" x="448"/></g><g id="k45-9" class="d"><use href="#R" x="500"/></g><g id="k45-10" class="d"><use href="#R" x="552"/></g><g id="k45-11" class="d"><use href="#R" x="604"/></g><g id="k45-12" class="d"><use href="#R" x="656"/></g><g id="k45-13" class="l"><use href="#R" x="708"/></g></g>
<g id="row46" transform="translate(0 2402)"><g id="k46-1" class="l"><use href="#L" x="84"/></g><g id="k46-2" class="l"><use href="#L" x="136"/></g><g id="k46-3" class="l"><use href="#L" x="188"/></g><g id="k46-4" class="l"><use href="#L" x="240"/></g><g id="k46-5" class="l"><use href="#L" x="292"/></g><g id="k46-6" class="l"><use href="#L" x="344"/></g><g id="k46-7" class="l"><use href="#L" x="396"/></g><g id="k46-8" class="l"><use href="#L" x="448"/></g><g id="k46-9" class="l"><use href="#L" x="500"/></g><g id="k46-10" class="l"><use href="#L" x="552"/></g><g id="k46-11" class="l"><use href="#L" x="604"/></g><g id="k46-12" class="l"><use href="#L" x="656"/></g><g id="k46-13" class="l"><use href="#L" x="708"/></g></g>
<g id="row47" transform="translate(0 2454)"><g id="k47-1" class="l"><use href="#R" x="84"/></g><g id="k47-2" class="d"><use href="#R" x="136"/></g><g id="k47-3" class="d"><use href="#R" x="188"/></g><g id="k47-4" class="d"><use href="#R" x="240"/></g><g id="k47-5" class="d"><use href="#R" x="292"/></g><g id="k47-6" class="d"><use href="#R" x="344"/></g><g id="k47-7" class="d"><use href="#R" x="396"/></g><g id="k47-8" class="d"><use href="#R" x="448"/></g><g id="k47-9" class="d"><use href="#R" x="500"/></g><g id="k47-10" class="d"><use href="#R" x="552"/></g><g id="k47-11" class="d"><use href="#R" x="604"/></g><g id="k47-12" class="d"><use href="#R" x="656"/></g><g id="k47-13" class="l"><use href="#R" x="708"/></g></g>
<g id="row48" transform="translate(0 2506)"><g id="k48-1" class="l"><use href="#L" x="84"/></g><g id="k48-2" class="l"><use href="#L" x="136"/></g><g id="k48-3" class="l"><use href="#L" x="188"/></g><g id="k48-4" class="l"><use href="#L" x="240"/></g><g id="k48-5" class="l"><use href="#L" x="292"/></g><g id="k48-6" class="l"><use href="#L" x="344"/></g><g id="k48-7" class="l"><use href="#L" x="396"/></g><g id="k48-8" class="l"><use href="#L" x="448"/></g><g id="k48-9" class="l"><use href="#L" x="500"/></g><g id="k48-10" class="l"><use href="#L" x="552"/></g><g id="k48-11" class="l"><use href="#L" x="604"/></g><g id="k48-12" class="l"><use href="#L" x="656"/></g><g id="k48-13" class="l"><use href="#L" x="708"/></g></g>
<g id="row49" transform="translate(0 2558)"><g id="k49-1" class="l"><use href="#R" x="84"/></g><g id="k49-2" class="d"><use href="#R" x="136"/></g><g id="k49-3" class="d"><use href="#R" x="188"/></g><g id="k49-4" class="d"><use href="#R" x="240"/></g><g id="k49-5" class="d"><use href="#R" x="292"/></g><g id="k49-6" class="d"><use href="#R" x="344"/></g><g id="k49-7" class="d"><use href="#R" x="396"/></g><g id="k49-8" class="d"><use href="#R" x="448"/></g><g id="k49-9" class="d"><use href="#R" x="500"/></g><g id="k49-10" class="d"><use href="#R" x="552"/></g><g id="k49-11" class="d"><use href="#R" x="604"/></g><g id="k49-12" class="d"><use href="#R" x="656"/></g><g id="k49-13" class="l"><use href="#R" x="708"/></g></g>
<g id="row50" transform="translate(0 2610)"><g id="k50-1" class="l"><use href="#L" x="84"/></g><g id="k50-2" class="l"><use href="#L" x="136"/></g><g id="k50-3" class="l"><use href="#L" x="188"/></g><g id="k50-4" class="l"><use href="#L" x="240"/></g><g id="k50-5" class="l"><use href="#L" x="292"/></g><g id="k50-6" class="l"><use href="#L" x="344"/></g><g id="k50-7" class="l"><use href="#L" x="396"/></g><g id="k50-8" class="l"><use href="#L" x="448"/></g><g id="k50-9" class="l"><use href="#L" x="500"/></g><g id="k50-10" class="l"><use href="#L" x="552"/></g><g id="k50-11" class="d"><use href="#L" x="604"/></g><g id="k50-12" class="l"><use href="#L" x="656"/></g><g id="k50-13" class="l"><use href="#L" x="708"/></g></g>
<g id="row51" transform="translate(0 2662)"><g id="k51-1" class="l"><use href="#R" x="84"/></g><g id="k51-2" class="d"><use href="#R" x="136"/></g><g id="k51-3" class="d"><use href="#R" x="188"/></g><g id="k51-4" class="d"><use href="#R" x="240"/></g><g id="k51-5" class="d"><use href="#R" x="292"/></g><g id="k51-6" class="d"><use href="#R" x="344"/></g><g id="k51-7" class="d"><use href="#R" x="396"/></g><g id="k51-8" class="d"><use href="#R" x="448"/></g><g id="k51-9" class="d"><use href="#R" x="500"/></g><g id="k51-10" class="d"><use href="#R" x="552"/></g><g id="k51-11" class="l"><use href="#R" x="604"/></g><g id="k51-12" class="l"><use href="#R" x="656"/></g><g id="k51-13" class="l"><use href="#R" x="708"/></g></g>
<g id="row52" transform="translate(0 2714)"><g id="k52-1" class="l"><use href="#L" x="84"/></g><g id="k52-2" class="l"><use href="#L" x="136"/></g><g id="k52-3" class="l"><use href="#L" x="188"/></g><g id="k52-4" class="l"><use href="#L" x="240"/></g><g id="k52-5" class="l"><use href="#L" x="292"/></g><g id="k52-6" class="l"><use href="#L" x="344"/></g><g id="k52-7" class="l"><use href="#L" x="396"/></g><g id="k52-8" class="l"><use href="#L" x="448"/></g><g id="k52-9" class="l"><use href="#L" x="500"/></g><g id="k52-10" class="l"><use href="#L" x="552"/></g><g id="k52-11" class="l"><use href="#L" x="604"/></g><g id="k52-12" class="l"><use href="#L" x="656"/></g><g id="k52-13" class="l"><use href="#L" x="708"/></g></g>
<g id="row53" transform="translate(0 2766)"><g id="k53-1" class="l"><use href="#R" x="84"/></g><g id="k53-2" class="l"><use href="#R" x="136"/></g><g id="k53-3" class="d"><use href="#R" x="188"/></g><g id="k53-4" class="d"><use href="#R" x="240"/></g><g id="k53-5" class="d"><use href="#R" x="292"/></g><g id="k53-6" class="d"><use href="#R" x="344"/></g><g id="k53-7" class="d"><use href="#R" x="396"/></g><g id="k53-8" class="d"><use href="#R" x="448"/></g><g id="k53-9" class="d"><use href="#R" x="500"/></g><g id="k53-10" class="d"><use href="#R" x="552"/></g><g id="k53-11" class="d"><use href="#R" x="604"/></g><g id="k53-12" class="l"><use href="#R" x="656"/></g><g id="k53-13" class="l"><use href="#R" x="708"/></g></g>
<g id="row54" transform="translate(0 2818)"><g id="k54-1" class="l"><use href="#L" x="84"/></g><g id="k54-2" class="d"><use href="#L" x="136"/></g><g id="k54-3" class="l"><use href="#L" x="188"/></g><g id="k54-4" class="l"><use href="#L" x="240"/></g><g id="k54-5" class="l"><use href="#L" x="292"/></g><g id="k54-6" class="l"><use href="#L" x="344"/></g><g id="k54-7" class="l"><use href="#L" x="396"/></g><g id="k54-8" class="l"><use href="#L" x="448"/></g><g id="k54-9" class="l"><use href="#L" x="500"/></g><g id="k54-10" class="l"><use href="#L" x="552"/></g><g id="k54-11" class="l"><use href="#L" x="604"/></g><g id="k54-12" class="d"><use href="#L" x="656"/></g><g id="k54-13" class="l"><use href="#L" x="708"/></g></g>
<g id="row55" transform="translate(0 2870)"><g id="k55-1" class="l"><use href="#R" x="84"/></g><g id="k55-2" class="d"><use href="#R" x="136"/></g><g id="k55-3" class="l"><use href="#R" x="188"/></g><g id="k55-4" class="d"><use href="#R" x="240"/></g><g id="k55-5" class="l"><use href="#R" x="292"/></g><g id="k55-6" class="l"><use href="#R" x="344"/></g><g id="k55-7" class="l"><use href="#R" x="396"/></g><g id="k55-8" class="l"><use href="#R" x="448"/></g><g id="k55-9" class="l"><use href="#R" x="500"/></g><g id="k55-10" class="l"><use href="#R" x="552"/></g><g id="k55-11" class="l"><use href="#R" x="604"/></g><g id="k55-12" class="d"><use href="#R" x="656"/></g><g id="k55-13" class="l"><use href="#R" x="708"/></g></g>
<g id="row56" transform="translate(0 2922)"><g id="k56-1" class="l"><use href="#L" x="84"/></g><g id="k56-2" class="l"><use href="#L" x="136"/></g><g id="k56-3" class="d"><use href="#L" x="188"/></g><g id="k56-4" class="d"><use href="#L" x="240"/></g><g id="k56-5" class="l"><use href="#L" x="292"/></g><g id="k56-6" class="l"><use href="#L" x="344"/></g><g id="k56-7" class="l"><use href="#L" x="396"/></g><g id="k56-8" class="l"><use href="#L" x="448"/></g><g id="k56-9" class="l"><use href="#L" x="500"/></g><g id="k56-10" class="l"><use href="#L" x="552"/></g><g id="k56-11" class="l"><use href="#L" x="604"/></g><g id="k56-12" class="l"><use href="#L" x="656"/></g><g id="k56-13" class="l"><use href="#L" x="708"/></g></g>
<g id="row57" transform="translate(0 2974)"><g id="k57-1" class="l"><use href="#R" x="84"/></g><g id="k57-2" class="l"><use href="#R" x="136"/></g><g id="k57-3" class="l"><use href="#R" x="188"/></g><g id="k57-4" class="l"><use href="#R" x="240"/></g><g id="k57-5" class="l"><use href="#R" x="292"/></g><g id="k57-6" class="l"><use href="#R" x="344"/></g><g id="k57-7" class="l"><use href="#R" x="396"/></g><g id="k57-8" class="l"><use href="#R" x="448"/></g><g id="k57-9" class="l"><use href="#R" x="500"/></g><g id="k57-10" class="l"><use href="#R" x="552"/></g><g id="k57-11" class="l"><use href="#R" x="604"/></g><g id="k57-12" class="l"><use href="#R" x="656"/></g><g id="k57-13" class="l"><use href="#R" x="708"/></g></g>
<g id="row58" transform="translate(0 3026)"><g id="k58-1" class="l"><use href="#L" x="84"/></g><g id="k58-2" class="l"><use href="#L" x="136"/></g><g id="k58-3" class="l"><use href="#L" x="188"/></g><g id="k58-4" class="l"><use href="#L" x="240"/></g><g id="k58-5" class="l"><use href="#L" x="292"/></g><g id="k58-6" class="d"><use href="#L" x="344"/></g><g id="k58-7" class="d"><use href="#L" x="396"/></g><g id="k58-8" class="d"><use href="#L" x="448"/></g><g id="k58-9" class="l"><use href="#L" x="500"/></g><g id="k58-10" class="l"><use href="#L" x="552"/></g><g id="k58-11" class="l"><use href="#L" x="604"/></g><g id="k58-12" class="l"><use href="#L" x="656"/></g><g id="k58-13" class="l"><use href="#L" x="708"/></g></g>
<g id="row59" transform="translate(0 3078)"><g id="k59-1" class="l"><use href="#R" x="84"/></g><g id="k59-2" class="l"><use href="#R" x="136"/></g><g id="k59-3" class="l"><use href="#R" x="188"/></g><g id="k59-4" class="l"><use href="#R" x="240"/></g><g id="k59-5" class="d"><use href="#R" x="292"/></g><g id="k59-6" class="d"><use href="#R" x="344"/></g><g id="k59-7" class="d"><use href="#R" x="396"/></g><g id="k59-8" class="l"><use href="#R" x="448"/></g><g id="k59-9" class="d"><use href="#R" x="500"/></g><g id="k59-10" class="d"><use href="#R" x="552"/></g><g id="k59-11" class="d"><use href="#R" x="604"/></g><g id="k59-12" class="d"><use href="#R" x="656"/></g><g id="k59-13" class="l"><use href="#R" x="708"/></g></g>
<g id="row60" transform="translate(0 3130)"><g id="k60-1" class="l"><use href="#L" x="84"/></g><g id="k60-2" class="d"><use href="#L" x="136"/></g><g id="k60-3" class="d"><use href="#L" x="188"/></g><g id="k60-4" class="d"><use href="#L" x="240"/></g><g id="k60-5" class="d"><use href="#L" x="292"/></g><g id="k60-6" class="d"><use href="#L" x="344"/></g><g id="k60-7" class="l"><use href="#L" x="396"/></g><g id="k60-8" class="d"><use href="#L" x="448"/></g><g id="k60-9" class="d"><use href="#L" x="500"/></g><g id="k60-10" class="d"><use href="#L" x="552"/></g><g id="k60-11" class="l"><use href="#L" x="604"/></g><g id="k60-12" class="l"><use href="#L" x="656"/></g><g id="k60-13" class="l"><use href="#L" x="708"/></g></g>
<g id="row61" transform="translate(0 3182)"><g id="k61-1" class="l"><use href="#R" x="84"/></g><g id="k61-2" class="l"><use href="#R" x="136"/></g><g id="k61-3" class="d"><use href="#R" x="188"/></g><g id="k61-4" class="l"><use href="#R" x="240"/></g><g id="k61-5" class="l"><use href="#R" x="292"/></g><g id="k61-6" class="d"><use href="#R" x="344"/></g><g id="k61-7" class="d"><use href="#R" x="396"/></g><g id="k61-8" class="d"><use href="#R" x="448"/></g><g id="k61-9" class="l"><use href="#R" x="500"/></g><g id="k61-10" class="l"><use href="#R" x="552"/></g><g id="k61-11" class="d"><use href="#R" x="604"/></g><g id="k61-12" class="l"><use href="#R" x="656"/></g><g id="k61-13" class="l"><use href="#R" x="708"/></g></g>
<g id="row62" transform="translate(0 3234)"><g id="k62-1" class="l"><use href="#L" x="84"/></g><g id="k62-2" class="l"><use href="#L" x="136"/></g><g id="k62-3" class="d"><use href="#L" x="188"/></g><g id="k62-4" class="l"><use href="#L" x="240"/></g><g id="k62-5" class="l"><use href="#L" x="292"/></g><g id="k62-6" class="l"><use href="#L" x="344"/></g><g id="k62-7" class="d"><use href="#L" x="396"/></g><g id="k62-8" class="d"><use href="#L" x="448"/></g><g id="k62-9" class="l"><use href="#L" x="500"/></g><g id="k62-10" class="l"><use href="#L" x="552"/></g><g id="k62-11" class="d"><use href="#L" x="604"/></g><g id="k62-12" class="l"><use href="#L" x="656"/></g><g id="k62-13" class="l"><use href="#L" x="708"/></g></g>
<g id="row63" transform="translate(0 3286)"><g id="k63-1" class="l"><use href="#R" x="84"/></g><g id="k63-2" class="l"><use href="#R" x="136"/></g><g id="k63-3" class="d"><use href="#R" x="188"/></g><g id="k63-4" class="l"><use href="#R" x="240"/></g><g id="k63-5" class="l"><use href="#R" x="292"/></g><g id="k63-6" class="d"><use href="#R" x="344"/></g><g id="k63-7" class="d"><use href="#R" x="396"/></g><g id="k63-8" class="d"><use href="#R" x="448"/></g><g id="k63-9" class="l"><use href="#R" x="500"/></g><g id="k63-10" class="l"><use href="#R" x="552"/></g><g id="k63-11" class="d"><use href="#R" x="604"/></g><g id="k63-12" class="l"><use href="#R" x="656"/></g><g id="k63-13" class="l"><use href="#R" x="708"/></g></g>
<g id="row64" transform="translate(0 3338)"><g id="k64-1" class="l"><use href="#L" x="84"/></g><g id="k64-2" class="d"><use href="#L" x="136"/></g><g id="k64-3" class="d"><use href="#L" x="188"/></g><g id="k64-4" class="d"><use href="#L" x="240"/></g><g id="k64-5" class="d"><use href="#L" x="292"/></g><g id="k64-6" class="d"><use href="#L" x="344"/></g><g id="k64-7" class="l"><use href="#L" x="396"/></g><g id="k64-8" class="d"><use href="#L" x="448"/></g><g id="k64-9" class="d"><use href="#L" x="500"/></g><g id="k64-10" class="d"><use href="#L" x="552"/></g><g id="k64-11" class="l"><use href="#L" x="604"/></g><g id="k64-12" class="l"><use href="#L" x="656"/></g><g id="k64-13" class="l"><use href="#L" x="708"/></g></g>
<g id="row65" transform="translate(0 3390)"><g id="k65-1" class="l"><use href="#R" x="84"/></g><g id="k65-2" class="l"><use href="#R" x="136"/></g><g id="k65-3" class="l"><use href="#R" x="188"/></g><g id="k65-4" class="l"><use href="#R" x="240"/></g><g id="k65-5" class="d"><use href="#R" x="292"/></g><g id="k65-6" class="d"><use href="#R" x="344"/></g><g id="k65-7" class="d"><use href="#R" x="396"/></g><g id="k65-8" class="l"><use href="#R" x="448"/></g><g id="k65-9" class="d"><use href="#R" x="500"/></g><g id="k65-10" class="d"><use href="#R" x="552"/></g><g id="k65-11" class="d"><use href="#R" x="604"/></g><g id="k65-12" class="d"><use href="#R" x="656"/></g><g id="k65-13" class="l"><use href="#R" x="708"/></g></g>
<g id="row66" transform="translate(0 3442)"><g id="k66-1" class="l"><use href="#L" x="84"/></g><g id="k66-2" class="l"><use href="#L" x="136"/></g><g id="k66-3" class="l"><use href="#L" x="188"/></g><g id="k66-4" class="l"><use href="#L" x="240"/></g><g id="k66-5" class="l"><use href="#L" x="292"/></g><g id="k66-6" class="d"><use href="#L" x="344"/></g><g id="k66-7" class="d"><use href="#L" x="396"/></g><g id="k66-8" class="d"><use href="#L" x="448"/></g><g id="k66-9" class="l"><use href="#L" x="500"/></g><g id="k66-10" class="l"><use href="#L" x="552"/></g><g id="k66-11" class="l"><use href="#L" x="604"/></g><g id="k66-12" class="l"><use href="#L" x="656"/></g><g id="k66-13" class="l"><use href="#L" x="708"/></g></g>
<g id="row67" transform="translate(0 3494)"><g id="k67-1" class="l"><use href="#R" x="84"/></g><g id="k67-2" class="l"><use href="#R" x="136"/></g><g id="k67-3" class="l"><use href="#R" x="188"/></g><g id="k67-4" class="l"><use href="#R" x="240"/></g><g id="k67-5" class="l"><use href="#R" x="292"/></g><g id="k67-6" class="l"><use href="#R" x="344"/></g><g id="k67-7" class="l"><use href="#R" x="396"/></g><g id="k67-8" class="l"><use href="#R" x="448"/></g><g id="k67-9" class="l"><use href="#R" x="500"/></g><g id="k67-10" class="l"><use href="#R" x="552"/></g><g id="k67-11" class="l"><use href="#R" x="604"/></g><g id="k67-12" class="l"><use href="#R" x="656"/></g><g id="k67-13" class="l"><use href="#R" x="708"/></g></g>
<g id="tail-labels" class="tx">
<text x="32" y="66" fill="#222">A</text>
<text x="754" y="118" fill="#fff">B</text>
<text x="32" y="3446" fill="#fff">B</text>
<text x="754" y="3498" fill="#222">A</text>
</g>
<text x="396" y="1809" text-anchor="middle" font-family="'Liberation Sans',Arial,sans-serif" font-size="14" font-weight="bold" fill="#404040" stroke="#fff" stroke-opacity="0.6" stroke-width="2" paint-order="stroke">BRACELETBOOK.COM</text>
</svg>
